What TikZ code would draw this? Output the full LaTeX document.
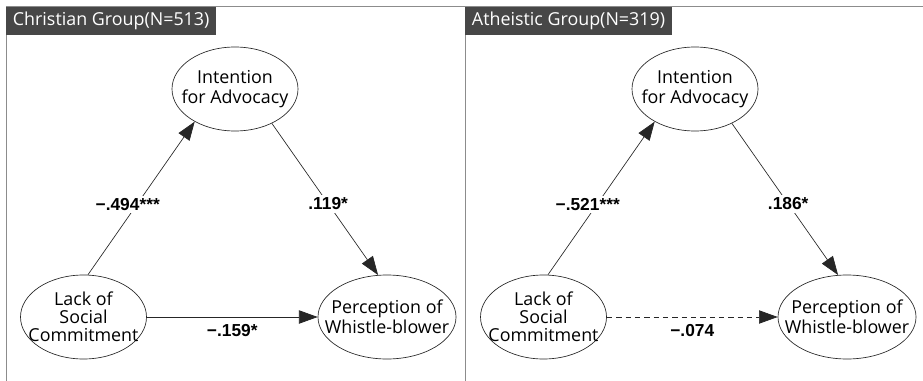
\documentclass[tikz,border=0pt]{standalone}
\usepackage{fontspec}
\setmainfont{Open Sans}
\newfontfamily\numfont{Liberation Sans}
\usetikzlibrary{shapes.geometric,arrows.meta}

\begin{document}
\begin{tikzpicture}[x=0.75pt,y=-0.75pt,
  var/.style={ellipse,draw=black!85,line width=0.5pt,minimum width=94.5pt,minimum height=63pt,inner xsep=-10pt,inner ysep=-6pt,align=center,font=\fontsize{13.4}{15}\selectfont},
  effect/.style={draw=black!85,line width=0.5pt,-{Triangle[length=14pt,width=10pt]}},
  coef/.style={fill=white,inner sep=2pt,font=\numfont\bfseries\fontsize{13}{14}\selectfont},
  grouplabel/.style={anchor=north west,fill=black!72,text=white,inner xsep=5pt,inner ysep=0pt,minimum height=21pt,font=\fontsize{13.4}{15}\selectfont}]
  \useasboundingbox (0,0) rectangle (923,381);
  % frame
  \draw[black!45,line width=0.75pt] (6,381) -- (6,7) -- (923,7);
  \draw[black!45,line width=0.75pt] (465,7) -- (465,381);

  % Christian group
  \node[grouplabel] (title1) at (6,7) {Christian Group(N=513)};
  \node[var] (int1) at (235,89) {Intention\\for Advocacy};
  \node[var,font=\fontsize{13.4}{13.5}\selectfont] (lack1) at (83.5,317) {Lack of\\Social\\Commitment};
  \node[var] (perc1) at (387,317) {Perception of\\Whistle-blower};
  \draw[effect] (lack1.84) -- node[coef,pos=0.46,xshift=-7pt] {−.494***} (int1.219);
  \draw[effect] (int1.317) -- node[coef,pos=0.53] {.119*} (perc1.102);
  \draw[effect] (lack1.east) -- node[coef,below=3.5pt] {−.159*} (perc1.west);

  % Atheistic group
  \node[grouplabel] (title2) at (465,7) {Atheistic Group(N=319)};
  \node[var] (int2) at (695,89) {Intention\\for Advocacy};
  \node[var,font=\fontsize{13.4}{13.5}\selectfont] (lack2) at (543.5,317) {Lack of\\Social\\Commitment};
  \node[var] (perc2) at (847,317) {Perception of\\Whistle-blower};
  \draw[effect] (lack2.84) -- node[coef,pos=0.46,xshift=-7pt] {−.521***} (int2.219);
  \draw[effect] (int2.317) -- node[coef,pos=0.53] {.186*} (perc2.102);
  \draw[effect,dash pattern=on 4pt off 3pt] (lack2.east) -- node[coef,below=3.5pt] {−.074} (perc2.west);
\end{tikzpicture}
\end{document}
